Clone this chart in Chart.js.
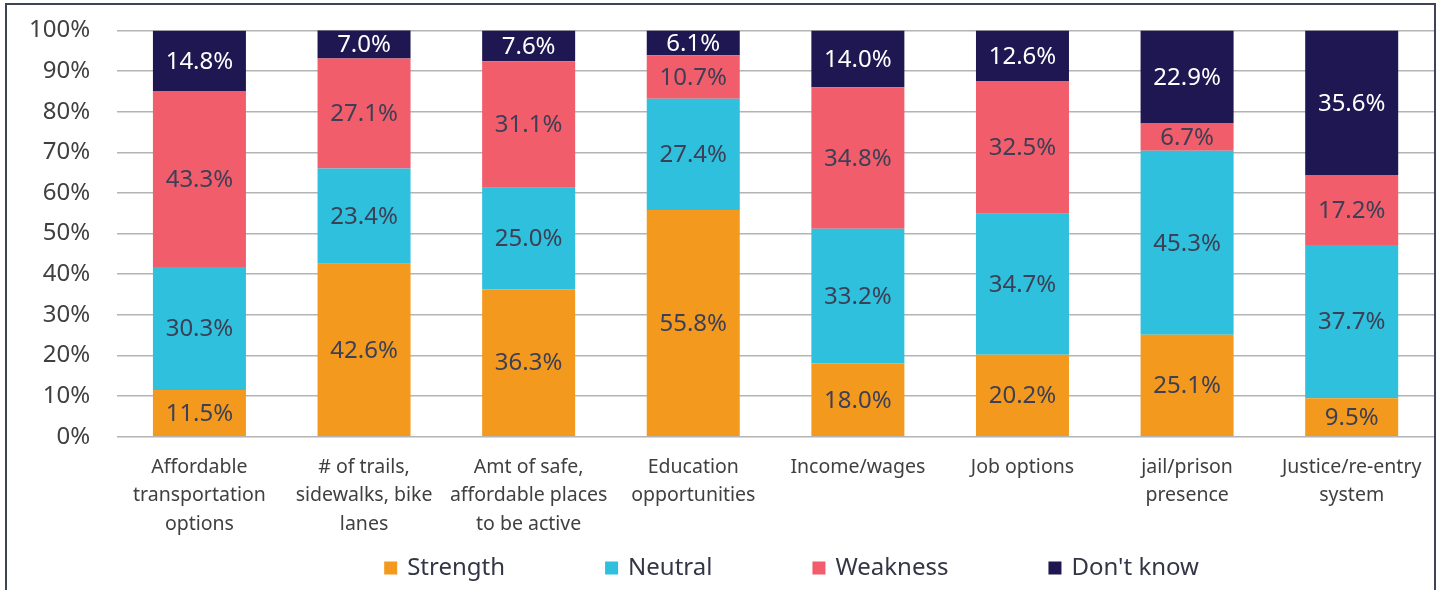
<!DOCTYPE html>
<html>
<head>
<meta charset="utf-8">
<script src="https://cdn.jsdelivr.net/npm/chart.js@4/dist/chart.umd.min.js"></script>
<style>
  html, body { margin: 0; padding: 0; background: #fff; overflow: hidden; }
  #frame {
    position: absolute; left: 5px; top: 3px; width: 1431px; height: 640px;
    border: 2px solid #3d4554; box-sizing: border-box; background: #fff;
  }
  #wrap { position: absolute; left: 0; top: -16px; width: 1427px; height: 601px; }
</style>
</head>
<body>
<div id="frame"><div id="wrap"><canvas id="chart"></canvas></div></div>
<script>
  // ── Data ──────────────────────────────────────
  var categories = [
    ["Affordable", "transportation", "options"],
    ["# of trails,", "sidewalks, bike", "lanes"],
    ["Amt of safe,", "affordable places", "to be active"],
    ["Education", "opportunities"],
    ["Income/wages"],
    ["Job options"],
    ["jail/prison", "presence"],
    ["Justice/re-entry", "system"]
  ];
  var strength = [11.5, 42.6, 36.3, 55.8, 18.0, 20.2, 25.1, 9.5];
  var neutral = [30.3, 23.4, 25.0, 27.4, 33.2, 34.7, 45.3, 37.7];
  var weakness = [43.3, 27.1, 31.1, 10.7, 34.8, 32.5, 6.7, 17.2];
  var dontKnow = [14.8, 7.0, 7.6, 6.1, 14.0, 12.6, 22.9, 35.6];
  var yTicks = [0, 10, 20, 30, 40, 50, 60, 70, 80, 90, 100];

  var FONT = "'Noto Sans', sans-serif";
  var TEXT = "#404040";

  // ── Inline value labels ───────────────────────
  var barLabels = {
    id: "barLabels",
    afterDatasetsDraw: function (chart) {
      var ctx = chart.ctx;
      ctx.save();
      ctx.font = "24px " + FONT;
      ctx.textAlign = "center";
      ctx.textBaseline = "middle";
      chart.data.datasets.forEach(function (ds, di) {
        chart.getDatasetMeta(di).data.forEach(function (el, i) {
          var p = el.getProps(["x", "y", "base"], true);
          ctx.fillStyle = ds.labelColor;
          ctx.fillText(ds.data[i].toFixed(1) + "%", p.x, (p.y + p.base) / 2 + 1);
        });
      });
      ctx.restore();
    }
  };

  // ── Legend (wide gaps, drawn under the axis) ──
  var wideLegend = {
    id: "wideLegend",
    afterDraw: function (chart) {
      var ctx = chart.ctx, gap = 100, box = 13, textGap = 10;
      ctx.save();
      ctx.font = "24px " + FONT;
      ctx.textBaseline = "middle";
      var ds = chart.data.datasets;
      var widths = ds.map(function (d) { return box + textGap + ctx.measureText(d.label).width; });
      var total = widths.reduce(function (a, b) { return a + b; }, 0) + gap * (ds.length - 1);
      var area = chart.chartArea;
      var x = (area.left + area.right) / 2 - total / 2 + 16, y = chart.height - 22;
      ds.forEach(function (d, i) {
        ctx.fillStyle = d.backgroundColor;
        ctx.fillRect(x, y - box / 2, box, box);
        ctx.fillStyle = "#333645";
        ctx.fillText(d.label, x + box + textGap, y);
        x += widths[i] + gap;
      });
      ctx.restore();
    }
  };

  function series(label, data, color, labelColor) {
    return {
      label: label, data: data, backgroundColor: color, labelColor: labelColor,
      borderWidth: 0, categoryPercentage: 1, barPercentage: 0.565
    };
  }

  new Chart(document.getElementById("chart"), {
    type: "bar",
    data: {
      labels: categories,
      datasets: [
        series("Strength", strength, "#f39a1e", "#3c3f55"),
        series("Neutral", neutral, "#2ec0dc", "#3c3f55"),
        series("Weakness", weakness, "#f15d6a", "#3c3f55"),
        series("Don't know", dontKnow, "#1f1751", "#ffffff")
      ]
    },
    options: {
      responsive: true, maintainAspectRatio: false, animation: false,
      layout: { padding: { top: 0, right: 0, left: -5, bottom: 43 } },
      plugins: {
        tooltip: { enabled: false },
        legend: { display: false }
      },
      scales: {
        x: {
          stacked: true,
          grid: { display: false },
          border: { display: false },
          ticks: { color: TEXT, font: { family: FONT, size: 19.5, lineHeight: 1.44 }, padding: 9, maxRotation: 0, autoSkip: false }
        },
        y: {
          stacked: true, min: 0, max: 100,
          afterBuildTicks: function (axis) { axis.ticks = yTicks.map(function (v) { return { value: v }; }); },
          grid: { color: "#b4b4b4", lineWidth: 1.5, drawTicks: false },
          border: { display: false },
          ticks: { color: TEXT, font: { family: FONT, size: 24 }, padding: 27, autoSkip: false, callback: function (v) { return v + "%"; } }
        }
      }
    },
    plugins: [barLabels, wideLegend]
  });
</script>
</body>
</html>
